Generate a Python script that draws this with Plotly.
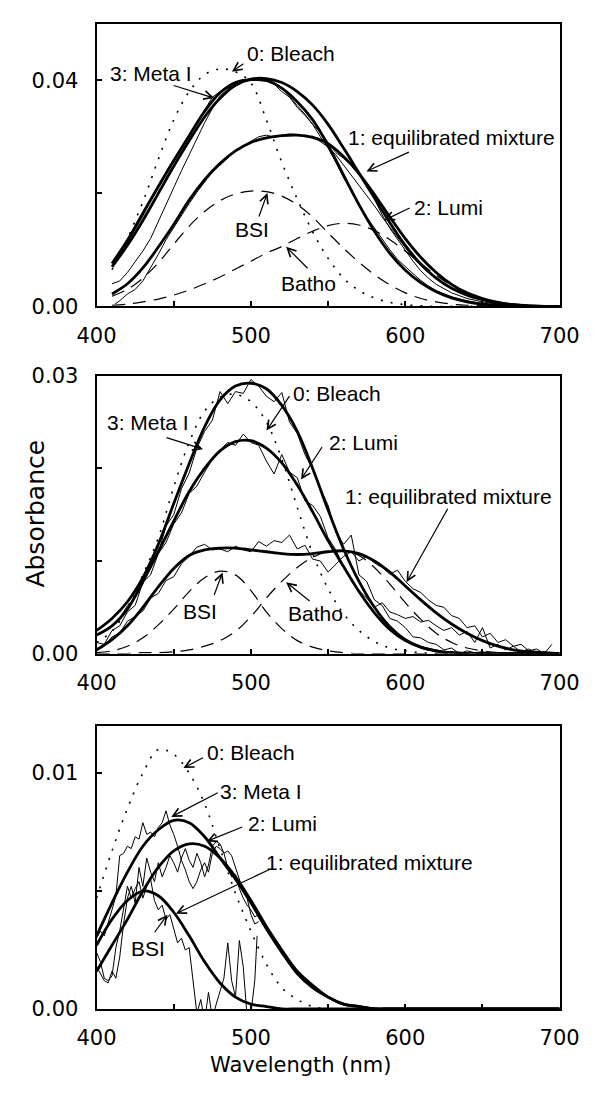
import plotly.graph_objects as go

# ---------------- data ----------------
WL_410 = list(range(410, 701, 10))
WL_400 = list(range(400, 701, 10))

# Panel 1
p1_bleach = [0.0065, 0.0120, 0.0185, 0.0260, 0.0330, 0.0380, 0.0410, 0.0420, 0.0415, 0.0395,
             0.0330, 0.0255, 0.0190, 0.0132, 0.0085, 0.0050, 0.0028, 0.0015, 0.0007, 0.0003,
             0.0001, 0, 0, 0, 0, 0, 0, 0, 0, 0]
p1_meta_fit = [0.0076, 0.0117, 0.0165, 0.0212, 0.0258, 0.0302, 0.0345, 0.0378, 0.0396, 0.0401,
               0.0400, 0.0386, 0.0362, 0.0330, 0.0285, 0.0232, 0.0180, 0.0133, 0.0094, 0.0064,
               0.0042, 0.0026, 0.0015, 0.0008, 0.0004, 0.0002, 0.0001, 0, 0, 0]
p1_lumi_fit = [0.0070, 0.0108, 0.0152, 0.0200, 0.0248, 0.0293, 0.0335, 0.0368, 0.0391, 0.0402,
               0.0403, 0.0396, 0.0380, 0.0356, 0.0322, 0.0280, 0.0236, 0.0192, 0.0148, 0.0108,
               0.0075, 0.0050, 0.0032, 0.0020, 0.0012, 0.0006, 0.0003, 0.0001, 0, 0]
p1_mix_fit = [0.0022, 0.0040, 0.0068, 0.0105, 0.0145, 0.0188, 0.0224, 0.0253, 0.0275, 0.0290,
              0.0298, 0.0302, 0.0303, 0.0299, 0.0288, 0.0265, 0.0235, 0.0198, 0.0158, 0.0120,
              0.0087, 0.0060, 0.0039, 0.0024, 0.0014, 0.0007, 0.0003, 0.0001, 0, 0]
p1_bsi = [0.0018, 0.0030, 0.0050, 0.0077, 0.0110, 0.0142, 0.0168, 0.0187, 0.0199, 0.0204,
          0.0203, 0.0195, 0.0180, 0.0158, 0.0130, 0.0103, 0.0078, 0.0056, 0.0038, 0.0024,
          0.0014, 0.0008, 0.0004, 0.0002, 0.0001, 0, 0, 0, 0, 0]
p1_batho = [0.0002, 0.0004, 0.0008, 0.0013, 0.0020, 0.0029, 0.0040, 0.0052, 0.0066, 0.0080,
            0.0094, 0.0106, 0.0120, 0.0133, 0.0143, 0.0147, 0.0144, 0.0134, 0.0118, 0.0098,
            0.0076, 0.0055, 0.0037, 0.0023, 0.0013, 0.0007, 0.0003, 0.0001, 0, 0]

p1_data_wl = [410, 415, 420, 425, 430, 435, 440, 445, 450, 455, 460, 465, 470, 475, 480, 485,
              490, 495, 500, 505, 510, 515, 520, 525, 530, 535, 540, 545, 550, 555, 560, 565,
              570, 575, 580, 585, 590, 595, 600, 605, 610, 615, 620, 630, 640, 650, 660, 670,
              680, 690, 700]
p1_meta_data = [0.0072, 0.0090, 0.0112, 0.0135, 0.0160, 0.0186, 0.0210, 0.0232, 0.0256, 0.0280,
                0.0302, 0.0325, 0.0348, 0.0370, 0.0380, 0.0386, 0.0392, 0.0398, 0.0401, 0.0400,
                0.0398, 0.0393, 0.0380, 0.0370, 0.0352, 0.0338, 0.0322, 0.0300, 0.0280, 0.0255,
                0.0228, 0.0205, 0.0180, 0.0158, 0.0138, 0.0118, 0.0100, 0.0083, 0.0070, 0.0058,
                0.0046, 0.0036, 0.0028, 0.0017, 0.0010, 0.0005, 0.0002, 0.0001, 0, 0, 0]
p1_lumi_data = [0.0040, 0.0045, 0.0060, 0.0078, 0.0098, 0.0120, 0.0150, 0.0180, 0.0212, 0.0240,
                0.0268, 0.0298, 0.0325, 0.0350, 0.0372, 0.0385, 0.0393, 0.0398, 0.0400, 0.0402,
                0.0400, 0.0394, 0.0385, 0.0372, 0.0355, 0.0340, 0.0322, 0.0308, 0.0290, 0.0272,
                0.0262, 0.0250, 0.0235, 0.0215, 0.0190, 0.0162, 0.0138, 0.0118, 0.0098, 0.0080,
                0.0063, 0.0050, 0.0039, 0.0024, 0.0014, 0.0008, 0.0004, 0.0002, 0.0001, 0, 0]
p1_mix_data_wl = [412] + p1_data_wl[1:]
p1_mix_data = [0.0004, 0.0010, 0.0022, 0.0030, 0.0045, 0.0068, 0.0092, 0.0118, 0.0140, 0.0162,
               0.0182, 0.0202, 0.0220, 0.0238, 0.0250, 0.0262, 0.0275, 0.0284, 0.0292, 0.0300,
               0.0303, 0.0299, 0.0302, 0.0305, 0.0303, 0.0300, 0.0301, 0.0292, 0.0282, 0.0268,
               0.0250, 0.0232, 0.0215, 0.0196, 0.0178, 0.0158, 0.0140, 0.0120, 0.0102, 0.0086,
               0.0072, 0.0060, 0.0050, 0.0033, 0.0020, 0.0012, 0.0006, 0.0003, 0.0001, 0, 0]

# Panel 2
p2_bleach = [0.0012, 0.0024, 0.0050, 0.0085, 0.0125, 0.0180, 0.0228, 0.0262, 0.0277, 0.0280,
             0.0272, 0.0250, 0.0210, 0.0158, 0.0108, 0.0070, 0.0043, 0.0025, 0.0013, 0.0006,
             0.0003, 0.0001, 0, 0, 0, 0, 0, 0, 0, 0, 0]
p2_meta_fit = [0.0025, 0.0038, 0.0056, 0.0082, 0.0118, 0.0162, 0.0205, 0.0245, 0.0274, 0.0289,
               0.0292, 0.0286, 0.0268, 0.0240, 0.0200, 0.0155, 0.0113, 0.0078, 0.0050, 0.0029,
               0.0015, 0.0007, 0.0003, 0.0001, 0, 0, 0, 0, 0, 0, 0]
p2_lumi_fit = [0.0020, 0.0030, 0.0048, 0.0078, 0.0110, 0.0143, 0.0175, 0.0200, 0.0219, 0.0229,
               0.0230, 0.0222, 0.0206, 0.0182, 0.0153, 0.0122, 0.0094, 0.0067, 0.0044, 0.0026,
               0.0014, 0.0007, 0.0003, 0.0001, 0, 0, 0, 0, 0, 0, 0]
p2_mix_fit = [0.0004, 0.0015, 0.0030, 0.0050, 0.0072, 0.0092, 0.0106, 0.0112, 0.0114, 0.0114,
              0.0112, 0.0110, 0.0108, 0.0107, 0.0108, 0.0110, 0.0111, 0.0108, 0.0100, 0.0088,
              0.0073, 0.0058, 0.0044, 0.0032, 0.0022, 0.0014, 0.0008, 0.0004, 0.0002, 0.0001, 0]
p2_bsi = [0.0001, 0.0003, 0.0008, 0.0017, 0.0031, 0.0048, 0.0067, 0.0082, 0.0089, 0.0085,
          0.0068, 0.0045, 0.0027, 0.0014, 0.0007, 0.0003, 0.0001, 0, 0, 0,
          0, 0, 0, 0, 0, 0, 0, 0, 0, 0, 0]
p2_batho = [0, 0, 0, 0.0001, 0.0001, 0.0002, 0.0004, 0.0008, 0.0014, 0.0024,
            0.0040, 0.0060, 0.0078, 0.0093, 0.0104, 0.0110, 0.0111, 0.0106, 0.0093, 0.0075,
            0.0055, 0.0037, 0.0022, 0.0012, 0.0006, 0.0003, 0.0001, 0, 0, 0, 0]

p2_data_wl = list(range(400, 696, 5))
p2_meta_data = [0.0020, 0.0024, 0.0030, 0.0038, 0.0052, 0.0060, 0.0075, 0.0098, 0.0108, 0.0138,
                0.0150, 0.0178, 0.0195, 0.0222, 0.0240, 0.0252, 0.0283, 0.0270, 0.0283, 0.0281,
                0.0296, 0.0289, 0.0278, 0.0272, 0.0282, 0.0250, 0.0238, 0.0215, 0.0199, 0.0178,
                0.0160, 0.0131, 0.0118, 0.0128, 0.0085, 0.0078, 0.0058, 0.0052, 0.0038, 0.0035,
                0.0028, 0.0018, 0.0017, 0.0012, 0.0010, 0.0004, 0.0006, 0.0000, 0.0003, 0.0001,
                0.0002, 0.0000, 0.0001, 0.0000, 0.0001, 0.0000, 0.0000, 0.0000, 0.0000, 0.0000]
p2_lumi_data = [0.0012, 0.0010, 0.0025, 0.0030, 0.0045, 0.0052, 0.0077, 0.0085, 0.0108, 0.0120,
                0.0140, 0.0152, 0.0173, 0.0181, 0.0196, 0.0210, 0.0220, 0.0228, 0.0225, 0.0237,
                0.0228, 0.0225, 0.0208, 0.0194, 0.0215, 0.0196, 0.0190, 0.0165, 0.0160, 0.0148,
                0.0125, 0.0112, 0.0094, 0.0082, 0.0068, 0.0060, 0.0050, 0.0055, 0.0045, 0.0042,
                0.0038, 0.0040, 0.0034, 0.0036, 0.0030, 0.0025, 0.0028, 0.0020, 0.0024, 0.0012,
                0.0028, 0.0006, 0.0010, 0.0004, 0.0008, 0.0002, 0.0005, 0.0000, 0.0002, 0.0000]
p2_mix_data = [0.0003, 0.0008, 0.0018, 0.0022, 0.0035, 0.0040, 0.0046, 0.0060, 0.0065, 0.0079,
               0.0083, 0.0097, 0.0105, 0.0115, 0.0118, 0.0112, 0.0113, 0.0110, 0.0116, 0.0112,
               0.0110, 0.0121, 0.0116, 0.0122, 0.0120, 0.0128, 0.0113, 0.0117, 0.0102, 0.0100,
               0.0088, 0.0096, 0.0105, 0.0110, 0.0100, 0.0105, 0.0098, 0.0093, 0.0086, 0.0090,
               0.0078, 0.0070, 0.0066, 0.0058, 0.0052, 0.0050, 0.0041, 0.0038, 0.0028, 0.0030,
               0.0018, 0.0022, 0.0012, 0.0015, 0.0008, 0.0010, 0.0003, 0.0005, 0.0000, 0.0010]

# Panel 3
p3_bleach = [0.0047, 0.0067, 0.0085, 0.0100, 0.0110, 0.0108, 0.0100, 0.0087, 0.0068, 0.0049,
             0.0033, 0.0019, 0.0009, 0.0004, 0.0001, 0, 0, 0, 0, 0,
             0, 0, 0, 0, 0, 0, 0, 0, 0, 0, 0]
p3_meta_fit = [0.0031, 0.0045, 0.0058, 0.0069, 0.0076, 0.0080, 0.0079, 0.0073, 0.0064, 0.0055,
               0.0045, 0.0034, 0.0024, 0.0015, 0.0009, 0.0005, 0.0002, 0.0001, 0, 0,
               0, 0, 0, 0, 0, 0, 0, 0, 0, 0, 0]
p3_lumi_fit = [0.0016, 0.0027, 0.0038, 0.0050, 0.0060, 0.0067, 0.0070, 0.0069, 0.0064, 0.0056,
               0.0046, 0.0035, 0.0025, 0.0016, 0.0010, 0.0005, 0.0002, 0.0001, 0, 0,
               0, 0, 0, 0, 0, 0, 0, 0, 0, 0, 0]
p3_bsi_fit = [0.0027, 0.0038, 0.0046, 0.0050, 0.0048, 0.0041, 0.0031, 0.0020, 0.0011, 0.0005,
              0.0002, 0.0001, 0, 0, 0, 0, 0, 0, 0, 0,
              0, 0, 0, 0, 0, 0, 0, 0, 0, 0, 0]

p3_data_wl = [400 + 2.5 * i for i in range(43)]
p3_meta_data = [0.0030, 0.0033, 0.0031, 0.0036, 0.0042, 0.0048, 0.0065, 0.0066, 0.0069, 0.0068,
                0.0073, 0.0072, 0.0079, 0.0074, 0.0075, 0.0073, 0.0077, 0.0079, 0.0084, 0.0078,
                0.0074, 0.0069, 0.0063, 0.0059, 0.0054, 0.0051, 0.0054, 0.0059, 0.0062, 0.0058,
                0.0066, 0.0069, 0.0068, 0.0066, 0.0060, 0.0056, 0.0057, 0.0051, 0.0047, 0.0044,
                0.0042, 0.0039, 0.0040]
p3_lumi_data = [0.0018, 0.0015, 0.0012, 0.0011, 0.0016, 0.0013, 0.0022, 0.0036, 0.0047, 0.0052,
                0.0045, 0.0060, 0.0052, 0.0064, 0.0058, 0.0054, 0.0062, 0.0056, 0.0060, 0.0065,
                0.0062, 0.0058, 0.0064, 0.0068, 0.0063, 0.0060, 0.0066, 0.0062, 0.0056, 0.0061,
                0.0069, 0.0071, 0.0070, 0.0066, 0.0067, 0.0065, 0.0060, 0.0054, 0.0050, 0.0047,
                0.0040, 0.0036, 0.0037]
p3_mix_data_wl = [400 + 2.5 * i for i in range(42)] + [504]
p3_mix_data = [0.0024, 0.0020, 0.0013, 0.0012, 0.0014, 0.0026, 0.0033, 0.0042, 0.0052, 0.0047,
               0.0051, 0.0054, 0.0047, 0.0052, 0.0055, 0.0046, 0.0042, 0.0044, 0.0038, 0.0040,
               0.0034, 0.0028, 0.0030, 0.0025, 0.0026, 0.0011, -0.0002, 0.0004, -0.0005, 0.0007,
               -0.0004, 0.0002, 0.0008, 0.0013, 0.0028, 0.0012, 0.0005, 0.0029, 0.0018, -0.0003,
               -0.0002, 0.0012, 0.0031]

# Tick values / labels
X_TICKS = [400, 450, 500, 550, 600, 650, 700]
X_TICKTEXT = ["400", "", "500", "", "600", "", "700"]
Y1_TICKS = [0, 0.02, 0.04]
Y1_TICKTEXT = ["0.00", "", "0.04"]
Y2_TICKS = [0, 0.01, 0.02, 0.03]
Y2_TICKTEXT = ["0.00", "", "", "0.03"]
Y3_TICKS = [0, 0.005, 0.01]
Y3_TICKTEXT = ["0.00", "", "0.01"]

# ---------------- figure ----------------
W, H = 603, 1093
fig = go.Figure()

THICK = dict(color="black", width=2.8, shape="spline", smoothing=1.0)
THIN = dict(color="black", width=1.0)
DOT = dict(color="black", width=1.6, dash="2px,8px", shape="spline")
DASH = dict(color="black", width=1.2, dash="13px,8px", shape="spline")


def add(x, y, line, ax):
    fig.add_trace(go.Scatter(x=x, y=y, mode="lines", line=line, xaxis="x" + ax, yaxis="y" + ax,
                             showlegend=False, hoverinfo="skip"))


# panel 1 (axis suffix "")
add(WL_410, p1_bleach, DOT, "")
add(WL_410, p1_bsi, DASH, "")
add(WL_410, p1_batho, DASH, "")
add(p1_data_wl, p1_meta_data, THIN, "")
add(p1_data_wl, p1_lumi_data, THIN, "")
add(p1_mix_data_wl, p1_mix_data, THIN, "")
add(WL_410, p1_meta_fit, THICK, "")
add(WL_410, p1_lumi_fit, THICK, "")
add(WL_410, p1_mix_fit, THICK, "")

# panel 2
add(WL_400, p2_bleach, DOT, "2")
add(WL_400, p2_bsi, DASH, "2")
add(WL_400, p2_batho, DASH, "2")
add(p2_data_wl, p2_meta_data, THIN, "2")
add(p2_data_wl, p2_lumi_data, THIN, "2")
add(p2_data_wl, p2_mix_data, THIN, "2")
add(WL_400, p2_meta_fit, THICK, "2")
add(WL_400, p2_lumi_fit, THICK, "2")
add(WL_400, p2_mix_fit, THICK, "2")

# panel 3
add(WL_400, p3_bleach, DOT, "3")
add(p3_data_wl, p3_meta_data, THIN, "3")
add(p3_data_wl, p3_lumi_data, THIN, "3")
add(p3_mix_data_wl, p3_mix_data, THIN, "3")
add(WL_400, p3_meta_fit, THICK, "3")
add(WL_400, p3_lumi_fit, THICK, "3")
add(WL_400, p3_bsi_fit, THICK, "3")

# axes
XDOM = [82 / W, 578 / W]
def ydom(top, bottom):
    return [1 - bottom / H, 1 - top / H]

TICKFONT = dict(family="DejaVu Sans", size=21, color="black")
common = dict(showline=True, mirror=True, linecolor="black", linewidth=2, ticks="inside",
              ticklen=5, tickwidth=1.5, tickcolor="black", showgrid=False, zeroline=False,
              tickfont=TICKFONT)

layout = dict(width=W, height=H, margin=dict(l=0, r=0, t=0, b=0),
              paper_bgcolor="white", plot_bgcolor="white", showlegend=False)
panels = [("", [0, 0.05], ydom(12, 301), Y1_TICKS, Y1_TICKTEXT),
          ("2", [0, 0.03], ydom(372, 656), Y2_TICKS, Y2_TICKTEXT),
          ("3", [0, 0.012], ydom(730, 1019.3), Y3_TICKS, Y3_TICKTEXT)]
for suf, yr, yd, yt, ytt in panels:
    layout["xaxis" + suf] = dict(common, domain=XDOM, range=[400, 700], anchor="y" + suf,
                                 tickvals=X_TICKS, ticktext=X_TICKTEXT, ticklabelstandoff=9)
    layout["yaxis" + suf] = dict(common, domain=yd, range=yr, anchor="x" + suf,
                                 tickvals=yt, ticktext=ytt, ticklabelstandoff=12)
fig.update_layout(**layout)

# annotation labels in pixel positions: (text, x, y)
LABELS = [
    ("0: Bleach", 290, 42), ("3: Meta I", 140, 63),
    ("1: equilibrated mixture", 462, 128), ("2: Lumi", 459, 200),
    ("BSI", 248, 222), ("Batho", 309, 278),
    ("0: Bleach", 340, 390), ("3: Meta I", 137, 420), ("2: Lumi", 368, 440),
    ("1: equilibrated mixture", 459, 495), ("BSI", 193, 613), ("Batho", 316, 615),
    ("0: Bleach", 247, 757), ("3: Meta I", 258, 797), ("2: Lumi", 281, 830),
    ("1: equilibrated mixture", 374, 870), ("BSI", 137, 958),
]
# arrows in pixel coords: (tail x, tail y, tip x, tip y)
ARROWS = [
    (240, 52, 227, 61), (166, 75, 208, 88), (415, 143, 371, 163), (417, 200, 390, 213),
    (256, 210, 265, 185), (308, 263, 285, 240),
    (288, 392, 264, 428), (158, 435, 196, 447), (323, 444, 301, 478), (456, 508, 414, 583),
    (208, 597, 217, 573), (310, 603, 285, 583),
    (196, 762, 175, 773), (210, 798, 162, 823), (237, 833, 200, 848), (262, 877, 167, 922),
    (144, 942, 158, 923),
]

ann = []
for text, px, py in LABELS:
    ann.append(dict(text=text, x=px / W, y=1 - py / H, xref="paper", yref="paper",
                    showarrow=False, xanchor="center", yanchor="middle",
                    font=dict(family="Liberation Sans", size=21, color="black")))
for tx, ty, hx, hy in ARROWS:
    ann.append(dict(text="", x=hx / W, y=1 - hy / H, xref="paper", yref="paper",
                    ax=tx - hx, ay=ty - hy, axref="pixel", ayref="pixel",
                    showarrow=True, arrowhead=5, arrowsize=1.4, arrowwidth=1.2,
                    arrowcolor="black", standoff=0))
ann.append(dict(text="Absorbance", x=17 / W, y=1 - 513 / H, xref="paper", yref="paper",
                showarrow=False, textangle=-90, xanchor="center", yanchor="middle",
                font=dict(family="DejaVu Sans", size=25, color="black")))
ann.append(dict(text="Wavelength (nm)", x=300 / W, y=1 - 1077 / H, xref="paper", yref="paper",
                showarrow=False, xanchor="center", yanchor="middle",
                font=dict(family="DejaVu Sans", size=21, color="black")))
fig.update_layout(annotations=ann)

fig.write_html("out.html")
